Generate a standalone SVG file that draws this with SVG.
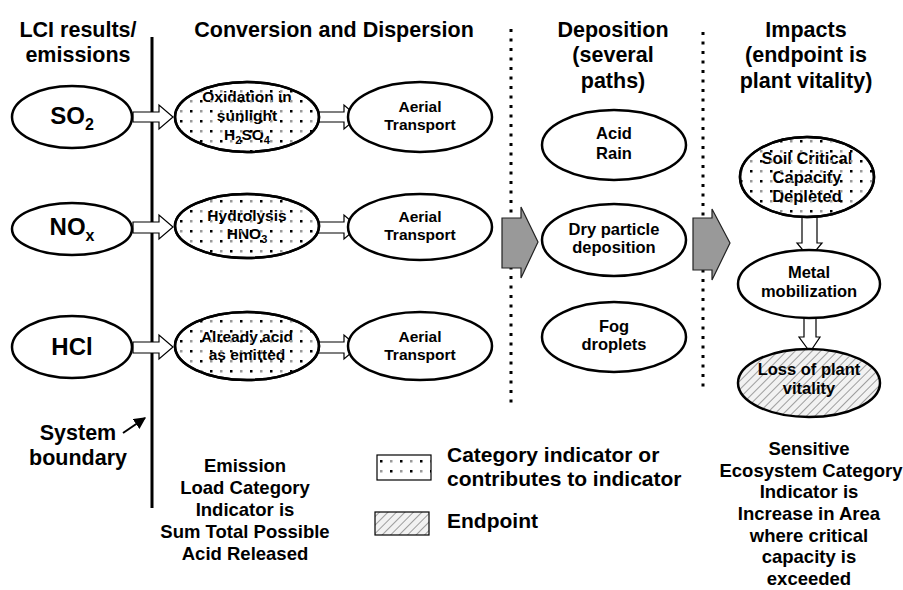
<svg xmlns="http://www.w3.org/2000/svg" width="903" height="590" viewBox="0 0 903 590">
<style>
text{font-family:"Liberation Sans",Arial,sans-serif;font-weight:bold;fill:#000;text-anchor:middle}
.h{font-size:21.5px}
.n{font-size:15.5px}
.m{font-size:16.5px}
.big{font-size:24px}
.note{font-size:18.5px}
.leg{font-size:21px;text-anchor:start}
.el{fill:#fff;stroke:#000;stroke-width:2.5}
.dotov{fill:url(#dots);stroke:#000;stroke-width:2.5}
.hatch{fill:url(#hatch);stroke:#000;stroke-width:2.5}
.hol{fill:#fff;stroke:#000;stroke-width:1.2}
.grey{fill:#999;stroke:#222;stroke-width:1.2}
.dl{stroke:#000;stroke-width:3;stroke-dasharray:3 6.5;fill:none}
</style>
<defs>
<pattern id="dots" width="20" height="20" patternUnits="userSpaceOnUse">
<rect x="0" y="0" width="2.5" height="2.5" fill="#000"/>
<rect x="10" y="10" width="2.5" height="2.5" fill="#000"/>
<rect x="10" y="0" width="2.5" height="2.5" fill="#999"/>
<rect x="0" y="10" width="2.5" height="2.5" fill="#999"/>
</pattern>
<pattern id="hatch" width="6" height="6" patternUnits="userSpaceOnUse" patternTransform="rotate(45)">
<rect width="6" height="6" fill="#f2f2f2"/>
<line x1="0" y1="0" x2="0" y2="6" stroke="#888" stroke-width="1.6"/>
</pattern>
<marker id="ah" viewBox="0 0 10 10" refX="9" refY="5" markerWidth="6" markerHeight="6" orient="auto">
<path d="M0,0 L10,5 L0,10 Z" fill="#000"/>
</marker>
</defs>

<g id="headers">
<text class="h" x="78" y="37">LCI results/</text>
<text class="h" x="78" y="62">emissions</text>
<text class="h" x="334" y="37">Conversion and Dispersion</text>
<text class="h" x="613" y="37">Deposition</text>
<text class="h" x="613" y="62">(several</text>
<text class="h" x="613" y="88">paths)</text>
<text class="h" x="806" y="37">Impacts</text>
<text class="h" x="806" y="62">(endpoint is</text>
<text class="h" x="806" y="88">plant vitality)</text>
</g>

<g id="boundaries">
<line x1="152" y1="37" x2="152" y2="508" stroke="#000" stroke-width="3"/>
<line class="dl" x1="511" y1="29" x2="511" y2="404"/>
<line class="dl" x1="703" y1="32" x2="703" y2="388"/>
</g>

<g id="connectors">
<polygon class="hol" points="133,112 159,112 159,105 173,117 159,129 159,122 133,122"/>
<polygon class="hol" points="318,112 344,112 344,105 358,117 344,129 344,122 318,122"/>
<polygon class="hol" points="133,222 159,222 159,215 173,227 159,239 159,233 133,233"/>
<polygon class="hol" points="318,222 344,222 344,215 358,227 344,239 344,233 318,233"/>
<polygon class="hol" points="133,342 159,342 159,335 173,347 159,359 159,353 133,353"/>
<polygon class="hol" points="318,342 344,342 344,335 358,347 344,359 344,353 318,353"/>
<polygon class="grey" points="502,218 521,218 521,207 538,242 521,278 521,268 502,268"/>
<polygon class="grey" points="693,218 712,218 712,209 730,243 712,280 712,270 693,270"/>
<polygon class="hol" points="802,215 817,215 817,243 822,243 809.5,258 797,243 802,243"/>
<polygon class="hol" points="804,310 816,310 816,337 820,337 810,352 799,337 804,337"/>
<line x1="123" y1="433" x2="145" y2="418" stroke="#000" stroke-width="2" marker-end="url(#ah)"/>
</g>

<g id="so2">
<ellipse class="el" cx="72" cy="117" rx="60" ry="31"/>
<text class="big" x="72" y="124">SO<tspan font-size="16" dy="6">2</tspan></text>
</g>
<g id="nox">
<ellipse class="el" cx="72" cy="229" rx="60" ry="26"/>
<text class="big" x="72" y="235">NO<tspan font-size="16" dy="6">x</tspan></text>
</g>
<g id="hcl">
<ellipse class="el" cx="72" cy="347" rx="60" ry="31"/>
<text class="big" x="72" y="355">HCl</text>
</g>

<g id="oxidation">
<ellipse class="el" cx="247" cy="117" rx="72" ry="35"/>
<text class="n" x="247" y="102">Oxidation in</text>
<text class="n" x="247" y="121">sunlight</text>
<text class="n" x="247" y="140">H<tspan font-size="11" dy="4">2</tspan><tspan dy="-4">SO</tspan><tspan font-size="11" dy="4">4</tspan></text>
<ellipse class="dotov" cx="247" cy="117" rx="72" ry="35"/>
</g>
<g id="hydrolysis">
<ellipse class="el" cx="247" cy="226" rx="72" ry="32"/>
<text class="n" x="247" y="221">Hydrolysis</text>
<text class="n" x="247" y="239">HNO<tspan font-size="11" dy="4">3</tspan></text>
<ellipse class="dotov" cx="247" cy="226" rx="72" ry="32"/>
</g>
<g id="already">
<ellipse class="el" cx="247" cy="346" rx="72" ry="34"/>
<text class="n" x="247" y="342">Already acid</text>
<text class="n" x="247" y="360">as emitted</text>
<ellipse class="dotov" cx="247" cy="346" rx="72" ry="34"/>
</g>

<g id="aerial1">
<ellipse class="el" cx="420" cy="117" rx="72" ry="35"/>
<text class="n" x="420" y="112">Aerial</text>
<text class="n" x="420" y="130">Transport</text>
</g>
<g id="aerial2">
<ellipse class="el" cx="420" cy="227" rx="72" ry="33"/>
<text class="n" x="420" y="222">Aerial</text>
<text class="n" x="420" y="240">Transport</text>
</g>
<g id="aerial3">
<ellipse class="el" cx="420" cy="346" rx="72" ry="34"/>
<text class="n" x="420" y="342">Aerial</text>
<text class="n" x="420" y="360">Transport</text>
</g>

<g id="acidrain">
<ellipse class="el" cx="614" cy="145" rx="72" ry="35"/>
<text class="m" x="614" y="139">Acid</text>
<text class="m" x="614" y="159">Rain</text>
</g>
<g id="dry">
<ellipse class="el" cx="614" cy="240" rx="72" ry="36"/>
<text class="m" x="614" y="235">Dry particle</text>
<text class="m" x="614" y="253">deposition</text>
</g>
<g id="fog">
<ellipse class="el" cx="614" cy="337" rx="72" ry="35"/>
<text class="m" x="614" y="332">Fog</text>
<text class="m" x="614" y="350">droplets</text>
</g>

<g id="soil">
<ellipse class="el" cx="807" cy="177" rx="67" ry="40"/>
<text class="m" x="807" y="164">Soil Critical</text>
<text class="m" x="807" y="183">Capacity</text>
<text class="m" x="807" y="202">Depleted</text>
<ellipse class="dotov" cx="807" cy="177" rx="67" ry="40"/>
</g>
<g id="metal">
<ellipse class="el" cx="809" cy="284" rx="71" ry="34"/>
<text class="m" x="809" y="278">Metal</text>
<text class="m" x="809" y="297">mobilization</text>
</g>
<g id="loss">
<ellipse class="hatch" cx="809" cy="383" rx="71" ry="34"/>
<text class="m" x="809" y="375">Loss of plant</text>
<text class="m" x="809" y="394">vitality</text>
</g>

<g id="notes">
<text class="h" x="78" y="440">System</text>
<text class="h" x="78" y="465">boundary</text>
<text class="note" x="245" y="472">Emission</text>
<text class="note" x="245" y="494">Load Category</text>
<text class="note" x="245" y="516">Indicator is</text>
<text class="note" x="245" y="538">Sum Total Possible</text>
<text class="note" x="245" y="560">Acid Released</text>
<text class="note" x="809" y="455">Sensitive</text>
<text class="note" x="811" y="477">Ecosystem Category</text>
<text class="note" x="809" y="498">Indicator is</text>
<text class="note" x="809" y="520">Increase in Area</text>
<text class="note" x="809" y="542">where critical</text>
<text class="note" x="809" y="563">capacity is</text>
<text class="note" x="809" y="585">exceeded</text>
</g>

<g id="legend">
<rect x="377" y="455" width="54" height="25" fill="url(#dots)" stroke="#000" stroke-width="1.2"/>
<rect x="375" y="512" width="54" height="23" fill="url(#hatch)" stroke="#000" stroke-width="1.2"/>
<text class="leg" x="447" y="462">Category indicator or</text>
<text class="leg" x="447" y="486">contributes to indicator</text>
<text class="leg" x="447" y="528">Endpoint</text>
</g>
</svg>
